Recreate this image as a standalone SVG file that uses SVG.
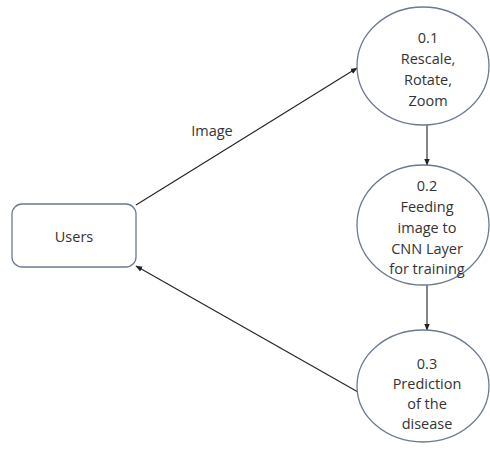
<svg xmlns="http://www.w3.org/2000/svg" width="490" height="451" viewBox="0 0 490 451">
<defs>
<style>
.shape{fill:#fff;stroke:#6a7a90;stroke-width:1.3}
.lbl{font-family:"Open Sans","Liberation Sans",sans-serif;font-size:14.5px;fill:#333;text-anchor:middle;dominant-baseline:central}
.conn{stroke:#222;stroke-width:1.1;fill:none;marker-end:url(#ah)}
</style>
<marker id="ah" viewBox="0 0 10 10" refX="9" refY="5" markerWidth="7" markerHeight="7" orient="auto" markerUnits="userSpaceOnUse">
<path d="M0,1 L10,5 L0,9 z" fill="#222"/>
</marker>
</defs>
<rect width="490" height="451" fill="#fff"/>
<g id="connectors">
<line class="conn" x1="136" y1="205" x2="357" y2="68"/>
<line class="conn" x1="427" y1="125" x2="427" y2="165"/>
<line class="conn" x1="427" y1="285" x2="427" y2="330"/>
<line class="conn" x1="358" y1="392" x2="136" y2="266"/>
<text class="lbl" x="212" y="130">Image</text>
</g>
<g id="users">
<rect class="shape" x="12" y="204" width="124" height="63" rx="10"/>
<text class="lbl" x="74" y="236">Users</text>
</g>
<g id="p01">
<ellipse class="shape" cx="423" cy="66" rx="66" ry="59"/>
<text class="lbl" x="428" y="37">0.1</text>
<text class="lbl" x="428" y="58">Rescale,</text>
<text class="lbl" x="428" y="79">Rotate,</text>
<text class="lbl" x="428" y="100">Zoom</text>
</g>
<g id="p02">
<ellipse class="shape" cx="423" cy="225" rx="66" ry="60"/>
<text class="lbl" x="427" y="185">0.2</text>
<text class="lbl" x="427" y="206">Feeding</text>
<text class="lbl" x="427" y="227">image to</text>
<text class="lbl" x="427" y="248">CNN Layer</text>
<text class="lbl" x="427" y="268">for training</text>
</g>
<g id="p03">
<ellipse class="shape" cx="423" cy="386" rx="66" ry="56"/>
<text class="lbl" x="427" y="363">0.3</text>
<text class="lbl" x="427" y="383">Prediction</text>
<text class="lbl" x="427" y="403">of the</text>
<text class="lbl" x="427" y="423">disease</text>
</g>
</svg>
